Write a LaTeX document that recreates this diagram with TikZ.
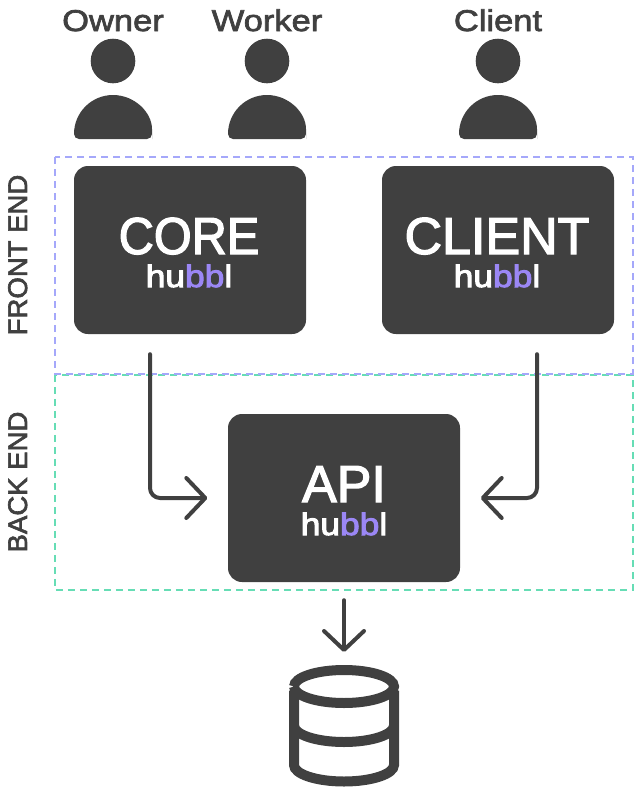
\documentclass[tikz,border=0pt]{standalone}
\usepackage{fontspec}
\setmainfont{Liberation Sans}
\usetikzlibrary{arrows.meta,calc}
\definecolor{dark}{HTML}{404040}
\definecolor{purp}{HTML}{9B87F5}
\definecolor{fe}{HTML}{A5A8FA}
\definecolor{be}{HTML}{66DDB5}
\newfontfamily\labfont[FakeStretch=1.15,FakeBold=2.4]{Liberation Sans}
\newfontfamily\zonefont[FakeStretch=1.02,FakeBold=2.4]{Liberation Sans}
\newfontfamily\titfont[FakeStretch=1.0,FakeBold=2.4]{Liberation Sans}
\newfontfamily\corefont[FakeStretch=0.935,FakeBold=2.4]{Liberation Sans}
\newfontfamily\hubfont[FakeStretch=1.14,FakeBold=3.2]{Liberation Sans}
\tikzset{
  x=1pt,y=-1pt,
  appbox/.style={fill=dark,rounded corners=14pt,minimum width=232pt,minimum height=168pt,inner sep=0pt,draw=none},
  title/.style={text=white,inner sep=0pt,anchor=base,font=\titfont\fontsize{52}{52}\selectfont},
  coretitle/.style={text=white,inner sep=0pt,anchor=base,font=\corefont\fontsize{52}{52}\selectfont},
  brand/.style={text=white,inner sep=0pt,anchor=base,font=\hubfont\fontsize{31}{31}\selectfont},
  who/.style={text=dark,inner sep=0pt,anchor=base,font=\labfont\fontsize{30}{30}\selectfont},
  zone/.style={text=dark,inner sep=0pt,anchor=base,rotate=90,font=\zonefont\fontsize{27}{27}\selectfont},
  head/.style={circle,fill=dark,minimum size=44.6pt,inner sep=0pt},
  flow/.style={draw=dark,line width=4pt,line cap=round,line join=round,rounded corners=10pt,
    -{Straight Barb[round,length=19pt,width=40pt,line width=4pt]}},
  fezone/.style={draw=fe,line width=2.2pt,dash pattern=on 7pt off 5pt},
  bezone/.style={draw=be,line width=2.2pt,dash pattern=on 7pt off 5pt},
  cyl/.style={draw=dark,line width=10pt},
}
\newcommand{\hubbl}{hu\textcolor{purp}{bb}l}
\newcommand{\person}[1]{\fill[dark,rounded corners=5pt] ($(#1)+(-39,73)$) -- ($(#1)+(-39,78)$) -- ($(#1)+(39,78)$) -- ($(#1)+(39,73)$) [sharp corners] arc[start angle=0,end angle=180,x radius=39pt,y radius=39pt] -- cycle;}
\begin{document}
\begin{tikzpicture}
\useasboundingbox (0,0) rectangle (634,787);
% zones
\draw[bezone] (55,374.8) rectangle (633,590);
\draw[fezone] (55,157) rectangle (633,373.6);
% people
\node[who] (owner) at (113,31) {Owner};
\node[who] (worker) at (267,31) {Worker};
\node[who] (client) at (498,31) {Client};
\node[head] (hOwner) at (113,61) {};
\node[head] (hWorker) at (267,61) {};
\node[head] (hClient) at (498,61) {};
\person{hOwner}
\person{hWorker}
\person{hClient}
% zone labels
\node[zone,anchor=base] (fel) at (27,255) {FRONT END};
\node[zone,anchor=base] (bel) at (27,482) {BACK END};
% boxes
\node[appbox] (core) at (190,250) {};
\node[appbox] (cli) at (498,250) {};
\node[appbox] (api) at (344,498) {};
\node[coretitle] (t1) at (189,254) {CORE};
\node[brand] (b1) at (189,287) {\hubbl};
\node[title] (t2) at (497,254) {CLIENT};
\node[brand] (b2) at (497,287) {\hubbl};
\node[title] (t3) at (344,502) {API};
\node[brand] (b3) at (344,535) {\hubbl};
% database
\coordinate (db) at (344,686.5);
\draw[cyl] ($(db)+(-50,0)$) arc[start angle=180,end angle=-180,x radius=50pt,y radius=16.5pt];
\draw[cyl] ($(db)+(-50,4)$) -- ($(db)+(-50,78.5)$) arc[start angle=180,end angle=360,x radius=50pt,y radius=16.5pt] -- ($(db)+(50,4)$);
\draw[cyl] ($(db)+(-50,39)$) arc[start angle=180,end angle=360,x radius=50pt,y radius=16.5pt];
% connectors
\coordinate (c1) at ($(core.south)+(-40,20)$);
\coordinate (c2) at ($(cli.south)+(39,20)$);
\draw[flow] (c1) |- ($(api.west)+(-20.5,0)$);
\draw[flow] (c2) |- ($(api.east)+(20.5,0)$);
\draw[flow] ($(api.south)+(0,18)$) -- ($(db)+(0,-34.5)$);
\end{tikzpicture}
\end{document}
